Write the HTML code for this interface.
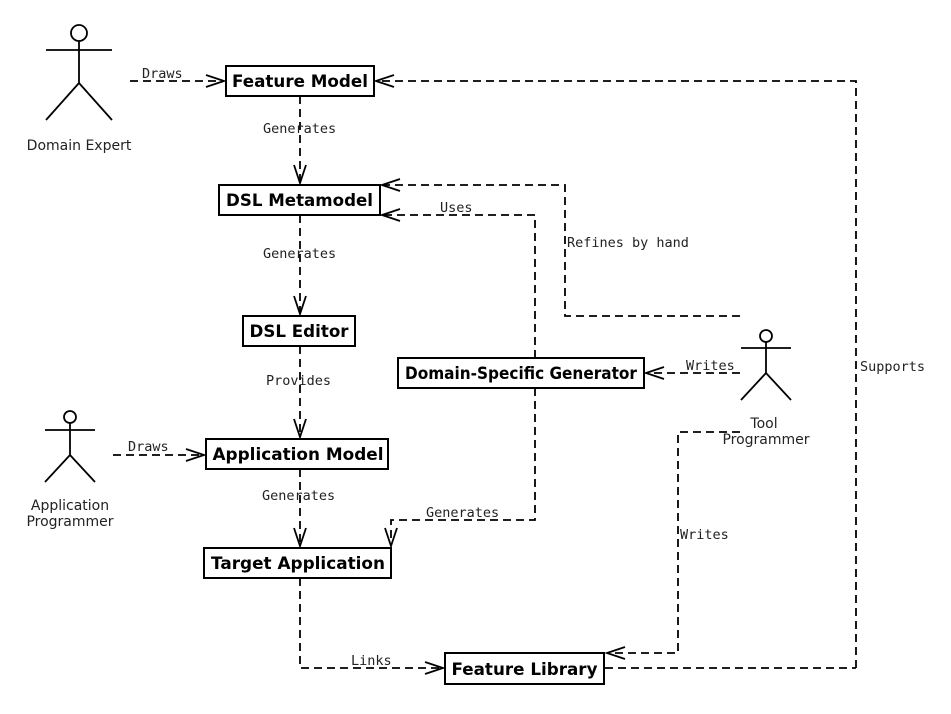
<!DOCTYPE html>
<html><head><meta charset="utf-8"><style>
html,body{margin:0;padding:0;background:#fff;width:951px;height:714px;overflow:hidden}
svg{display:block}
.b{font-family:"DejaVu Sans","Liberation Sans",sans-serif;font-weight:bold;font-size:17px;text-anchor:middle}
.m{font-family:"DejaVu Sans Mono","Liberation Mono",monospace;font-size:13.5px;fill:#222}
.a{font-family:"DejaVu Sans","Liberation Sans",sans-serif;font-size:14px;fill:#222;text-anchor:middle}
.d{fill:none;stroke:#000;stroke-width:1.8;stroke-dasharray:8,5}
.s{fill:none;stroke:#000;stroke-width:1.8}
rect{fill:#fff;stroke:#000;stroke-width:2}
</style></head><body>
<svg width="951" height="714" viewBox="0 0 951 714">
<path class="d" d="M130 81H224"/><path class="s" d="M206 75L224 81L206 87"/>
<path class="d" d="M856 668V81H376"/><path class="s" d="M394 75L376 81L394 87"/>
<path class="d" d="M605 668H856"/>
<path class="d" d="M300 96V183"/><path class="s" d="M294 165L300 183L306 165"/>
<path class="d" d="M740 316H565V185H382"/><path class="s" d="M400 179L382 185L400 191"/>
<path class="d" d="M535 358V215H382"/><path class="s" d="M400 209L382 215L400 221"/>
<path class="d" d="M300 215V314"/><path class="s" d="M294 296L300 314L306 296"/>
<path class="d" d="M300 346V437"/><path class="s" d="M294 419L300 437L306 419"/>
<path class="d" d="M740 373H646"/><path class="s" d="M664 367L646 373L664 379"/>
<path class="d" d="M113 455H204"/><path class="s" d="M186 449L204 455L186 461"/>
<path class="d" d="M300 469V546"/><path class="s" d="M294 528L300 546L306 528"/>
<path class="d" d="M535 388V520H391V546"/><path class="s" d="M385 528L391 546L397 528"/>
<path class="d" d="M300 578V668H443"/><path class="s" d="M425 662L443 668L425 674"/>
<path class="d" d="M740 432H678V653H607"/><path class="s" d="M625 647L607 653L625 659"/>
<text class="m" x="142" y="78">Draws</text>
<text class="m" x="263" y="133">Generates</text>
<text class="m" x="263" y="258">Generates</text>
<text class="m" x="266" y="385">Provides</text>
<text class="m" x="262" y="500">Generates</text>
<text class="m" x="128" y="451">Draws</text>
<text class="m" x="440" y="212">Uses</text>
<text class="m" x="567" y="247">Refines by hand</text>
<text class="m" x="686" y="370">Writes</text>
<text class="m" x="860" y="371">Supports</text>
<text class="m" x="426" y="517">Generates</text>
<text class="m" x="680" y="539">Writes</text>
<text class="m" x="351" y="665">Links</text>
<rect x="226" y="66" width="148" height="30"/><text class="b" x="300" y="87" textLength="136" lengthAdjust="spacingAndGlyphs">Feature Model</text>
<rect x="219" y="185" width="161" height="30"/><text class="b" x="299.5" y="206" textLength="147" lengthAdjust="spacingAndGlyphs">DSL Metamodel</text>
<rect x="243" y="316" width="112" height="30"/><text class="b" x="299" y="337" textLength="99" lengthAdjust="spacingAndGlyphs">DSL Editor</text>
<rect x="398" y="358" width="246" height="30"/><text class="b" x="521" y="379" textLength="232" lengthAdjust="spacingAndGlyphs">Domain-Specific Generator</text>
<rect x="206" y="439" width="182" height="30"/><text class="b" x="298" y="460" textLength="171" lengthAdjust="spacingAndGlyphs">Application Model</text>
<rect x="204" y="548" width="187" height="30"/><text class="b" x="298" y="569" textLength="174" lengthAdjust="spacingAndGlyphs">Target Application</text>
<rect x="445" y="653" width="159" height="31"/><text class="b" x="524.5" y="675" textLength="146" lengthAdjust="spacingAndGlyphs">Feature Library</text>
<g class="s">
<circle cx="79" cy="33" r="8"/><path d="M46 50H112M79 41V83L46 120M79 83L112 120"/>
<circle cx="70" cy="417" r="6"/><path d="M45 430H95M70 423V455L45 482M70 455L95 482"/>
<circle cx="766" cy="336" r="6"/><path d="M741 348H791M766 342V373L741 400M766 373L791 400"/>
</g>
<text class="a" x="79" y="150">Domain Expert</text>
<text class="a" x="70" y="510">Application</text>
<text class="a" x="70" y="526">Programmer</text>
<text class="a" x="764" y="428">Tool</text>
<text class="a" x="766" y="444">Programmer</text>
</svg>
</body></html>
